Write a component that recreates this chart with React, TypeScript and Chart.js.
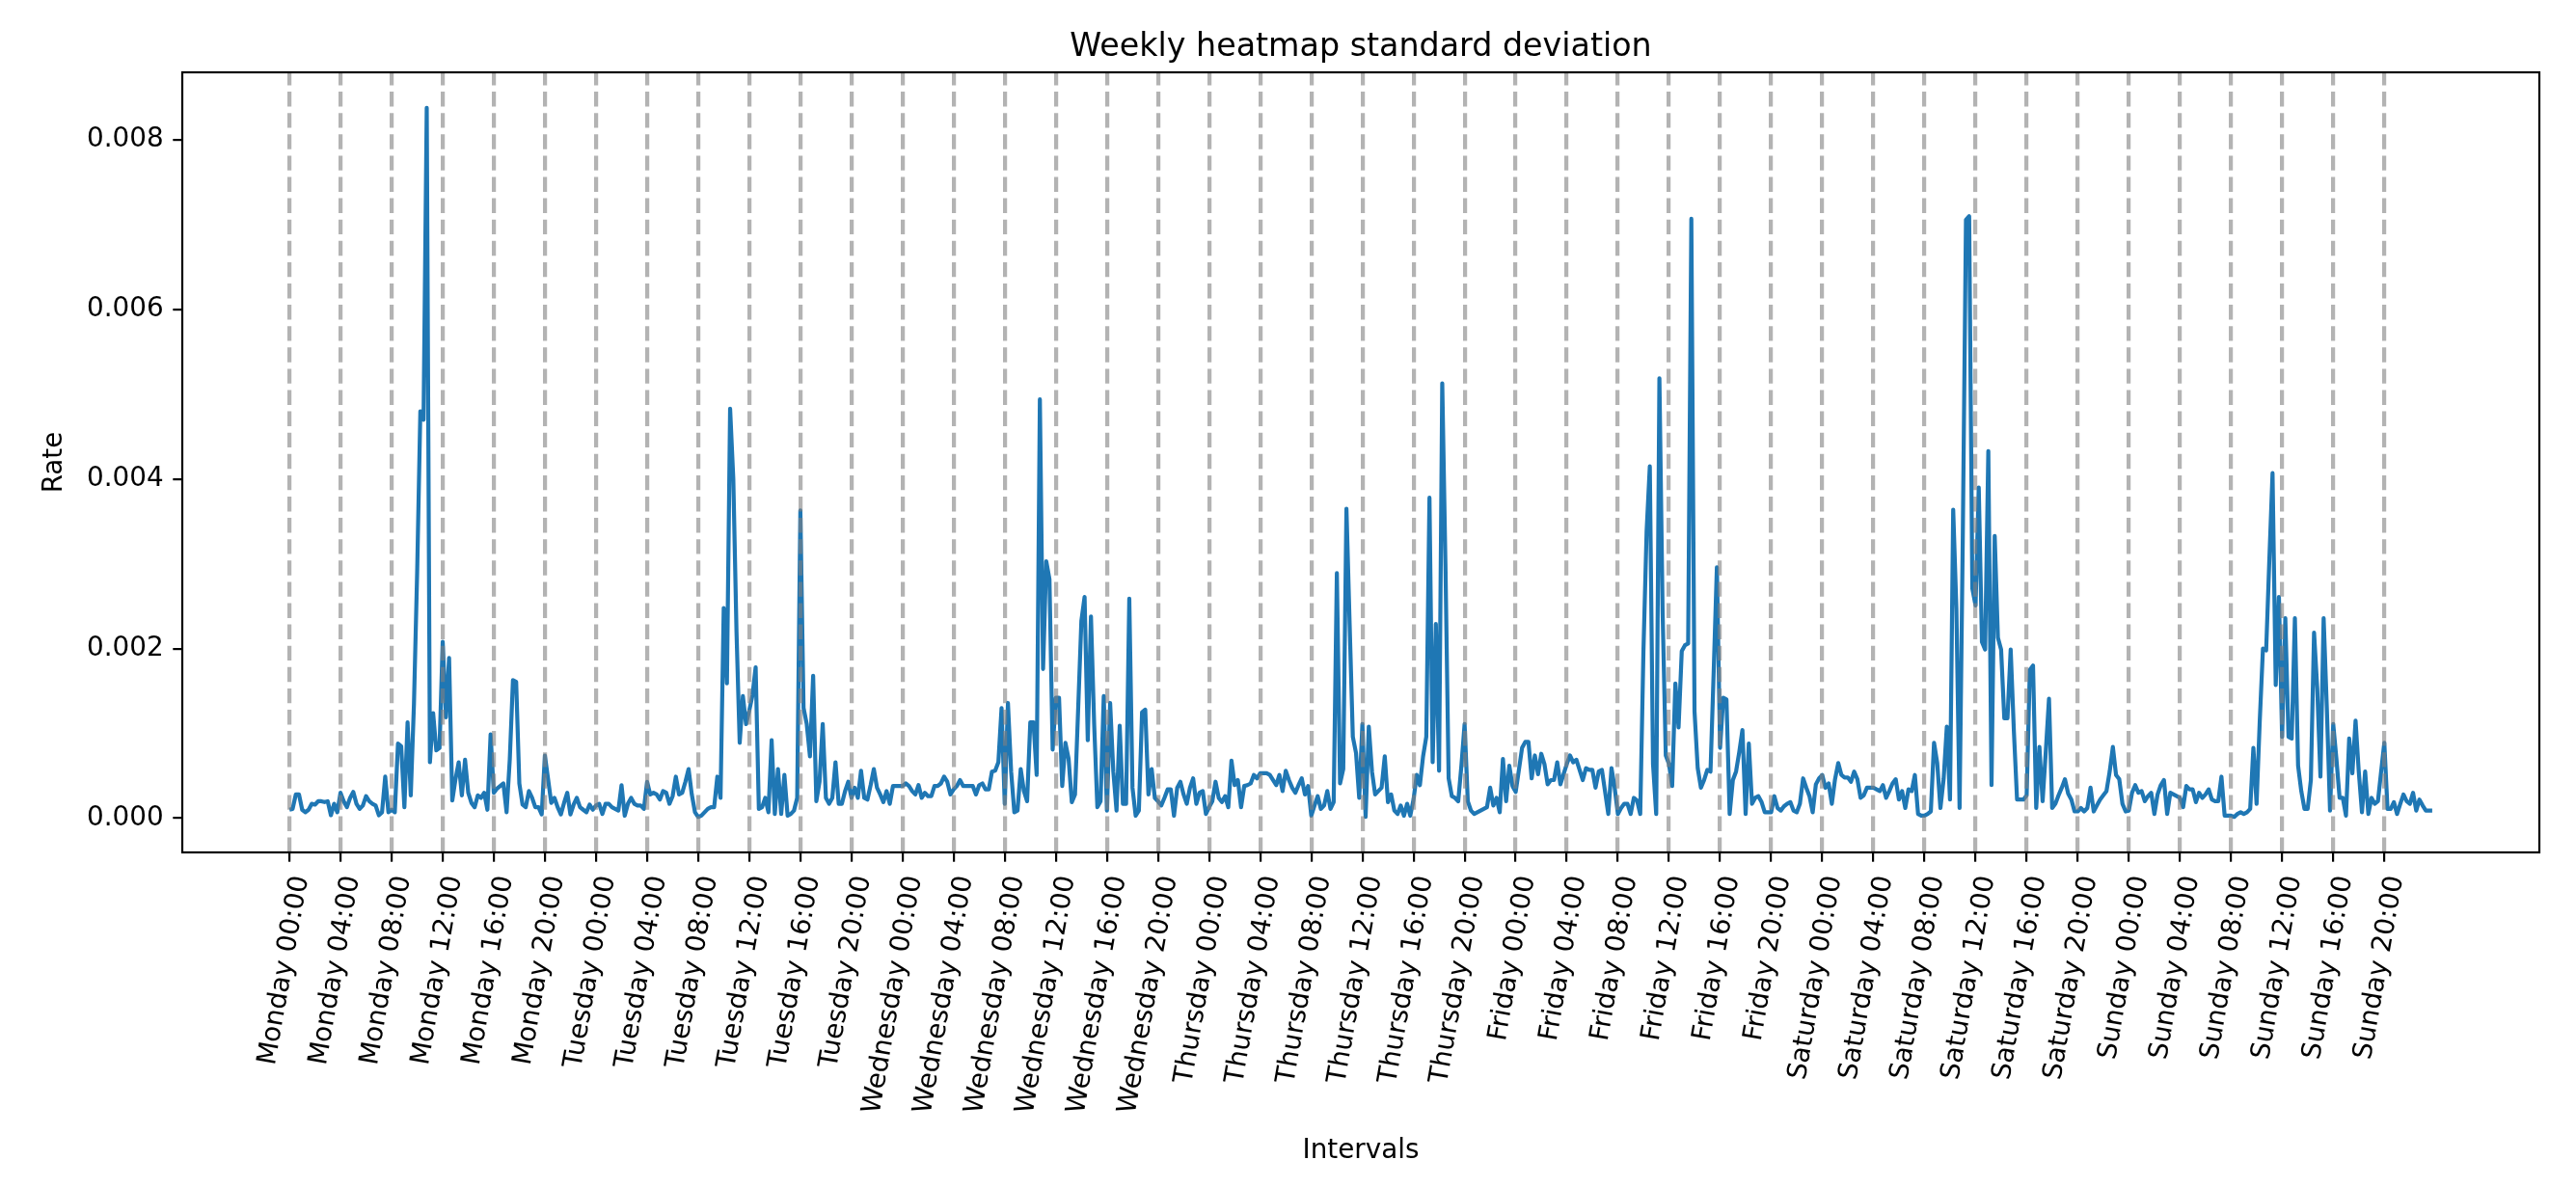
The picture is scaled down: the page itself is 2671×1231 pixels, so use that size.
import React, { useEffect, useRef } from 'react';
import Chart from 'chart.js/auto';

const chartTitle = 'Weekly heatmap standard deviation';
const days = ['Monday', 'Tuesday', 'Wednesday', 'Thursday', 'Friday', 'Saturday', 'Sunday'];
const tickHours = ['00:00', '04:00', '08:00', '12:00', '16:00', '20:00'];
// one value every 15 minutes, so 16 slots between two tick labels
const slotsPerTick = 16;

const monday = [
  0.00010, 0.00011, 0.00028, 0.00028, 0.00010, 0.00007, 0.00010, 0.00017, 0.00016, 0.00020, 0.00020, 0.00019, 0.00020, 0.000035, 0.00017, 0.00007,
  0.00030, 0.00020, 0.00013, 0.00024, 0.00031, 0.00017, 0.00011, 0.00015, 0.00026, 0.00020, 0.00017, 0.00015, 0.000035, 0.00007, 0.00049, 0.00007,
  0.00010, 0.00007, 0.00088, 0.00085, 0.00013, 0.00113, 0.00027, 0.00135, 0.0029, 0.0048, 0.0047, 0.00838, 0.00066, 0.00124, 0.00080, 0.00083,
  0.00208, 0.00119, 0.00189, 0.00021, 0.00046, 0.00066, 0.00027, 0.00069, 0.00030, 0.00018, 0.00013, 0.00027, 0.00024, 0.00030, 0.00010, 0.00099,
  0.00030, 0.00035, 0.00038, 0.00041, 0.00007, 0.00069, 0.00163, 0.00161, 0.00041, 0.00016, 0.00013, 0.00032, 0.00024, 0.00013, 0.00013, 0.000045,
  0.00074, 0.00046, 0.00018, 0.00024, 0.00013, 0.000045, 0.00018, 0.00030, 0.000045, 0.00016, 0.00024, 0.00013, 0.00010, 0.00007, 0.00016, 0.00010,
];

const tuesday = [
  0.00015, 0.00017, 0.00005, 0.00017, 0.00017, 0.00013, 0.00011, 0.00009, 0.00039, 0.00003, 0.00017, 0.00024, 0.00017, 0.00015, 0.00015, 0.00011,
  0.00043, 0.00028, 0.00030, 0.00028, 0.00022, 0.00032, 0.00030, 0.00017, 0.00026, 0.00049, 0.00028, 0.00030, 0.00043, 0.00058, 0.00028, 0.00007,
  0.000015, 0.00003, 0.00007, 0.00011, 0.00013, 0.00013, 0.00049, 0.00024, 0.00248, 0.00159, 0.00483, 0.0040, 0.0022, 0.00089, 0.00144, 0.00111,
  0.00127, 0.00145, 0.00178, 0.00011, 0.00013, 0.00024, 0.00007, 0.00092, 0.00005, 0.00058, 0.00005, 0.00051, 0.00003, 0.00005, 0.00009, 0.00024,
  0.00363, 0.0013, 0.00111, 0.00073, 0.00168, 0.00020, 0.00043, 0.00111, 0.00024, 0.00017, 0.00024, 0.00066, 0.00017, 0.00017, 0.00032, 0.00043,
  0.00024, 0.00036, 0.00024, 0.00056, 0.00024, 0.00022, 0.00039, 0.00058, 0.00036, 0.00028, 0.00019, 0.00032, 0.00017, 0.00038, 0.00038, 0.00038,
];

const wednesday = [
  0.00038, 0.00041, 0.00038, 0.00032, 0.00028, 0.00039, 0.00024, 0.00030, 0.00026, 0.00026, 0.00038, 0.00038, 0.00041, 0.00049, 0.00043, 0.00028,
  0.00034, 0.00038, 0.00045, 0.00038, 0.00038, 0.00038, 0.00038, 0.00028, 0.00039, 0.00041, 0.00034, 0.00034, 0.00055, 0.00056, 0.00066, 0.00130,
  0.00017, 0.00136, 0.00055, 0.00007, 0.00009, 0.00058, 0.00032, 0.00020, 0.00113, 0.00113, 0.00051, 0.00494, 0.00176, 0.00303, 0.00282, 0.00081,
  0.00142, 0.00142, 0.00038, 0.00089, 0.00070, 0.00019, 0.00028, 0.00130, 0.00233, 0.00261, 0.00092, 0.00238, 0.00111, 0.00013, 0.00020, 0.00144,
  0.00009, 0.00136, 0.00055, 0.00009, 0.00109, 0.00017, 0.00017, 0.00259, 0.00036, 0.00003, 0.00009, 0.00125, 0.00128, 0.00028, 0.00058, 0.00024,
  0.00020, 0.00015, 0.00024, 0.00034, 0.00034, 0.00003, 0.00036, 0.00043, 0.00028, 0.00017, 0.00036, 0.00047, 0.00017, 0.00030, 0.00032, 0.00005,
];

const thursday = [
  0.00013, 0.00020, 0.00043, 0.00024, 0.00019, 0.00026, 0.00013, 0.00068, 0.00039, 0.00045, 0.00013, 0.00038, 0.00039, 0.00041, 0.00051, 0.00047,
  0.00053, 0.00053, 0.00053, 0.00051, 0.00045, 0.00039, 0.00051, 0.00032, 0.00056, 0.00045, 0.00036, 0.00030, 0.00039, 0.00047, 0.00028, 0.00038,
  0.00003, 0.00015, 0.00026, 0.00011, 0.00015, 0.00032, 0.00011, 0.00019, 0.00289, 0.00041, 0.00058, 0.00365, 0.00229, 0.00096, 0.00077, 0.00024,
  0.00111, 0.000015, 0.00108, 0.00055, 0.00028, 0.00032, 0.00036, 0.00073, 0.00019, 0.00028, 0.00009, 0.00005, 0.00015, 0.00003, 0.00017, 0.00003,
  0.00022, 0.00051, 0.00039, 0.00073, 0.00096, 0.00378, 0.00066, 0.00229, 0.00056, 0.00513, 0.0030, 0.00047, 0.00026, 0.00024, 0.00020, 0.00062,
  0.00111, 0.00020, 0.00009, 0.00005, 0.00007, 0.00009, 0.00011, 0.00013, 0.00036, 0.00015, 0.00024, 0.00007, 0.00070, 0.00020, 0.00062, 0.00038,
];

const friday = [
  0.00031, 0.00057, 0.00083, 0.00090, 0.00090, 0.00047, 0.00074, 0.00052, 0.00076, 0.00064, 0.00040, 0.00045, 0.00045, 0.00066, 0.00040, 0.00052,
  0.00064, 0.00074, 0.00066, 0.00069, 0.00057, 0.00045, 0.00059, 0.00057, 0.00057, 0.00036, 0.00055, 0.00057, 0.00031, 0.00005, 0.00059, 0.00036,
  0.00005, 0.00012, 0.00017, 0.00017, 0.00005, 0.00024, 0.00021, 0.00005, 0.00197, 0.00339, 0.00415, 0.00064, 0.00005, 0.00519, 0.00244, 0.00074,
  0.00064, 0.00038, 0.00159, 0.00107, 0.00197, 0.00204, 0.00206, 0.00707, 0.00126, 0.00059, 0.00036, 0.00045, 0.00057, 0.00055, 0.00173, 0.00296,
  0.00083, 0.00142, 0.00140, 0.00005, 0.00045, 0.00055, 0.00078, 0.00104, 0.00005, 0.00088, 0.00017, 0.00024, 0.00026, 0.00019, 0.00007, 0.00007,
  0.00007, 0.00026, 0.00012, 0.00009, 0.00014, 0.00017, 0.00019, 0.00009, 0.00007, 0.00017, 0.00047, 0.00036, 0.00026, 0.00007, 0.00040, 0.00047,
];

const saturday = [
  0.00051, 0.00036, 0.00041, 0.00017, 0.00046, 0.00065, 0.00051, 0.00048, 0.00048, 0.00043, 0.00055, 0.00046, 0.00024, 0.00027, 0.00036, 0.00036,
  0.00036, 0.00034, 0.00032, 0.00039, 0.00024, 0.00032, 0.00041, 0.00046, 0.00022, 0.00032, 0.00012, 0.00034, 0.00032, 0.00051, 0.00005, 0.00003,
  0.00003, 0.00005, 0.00008, 0.00089, 0.00065, 0.00012, 0.00046, 0.00108, 0.00022, 0.00364, 0.00247, 0.00012, 0.0033, 0.00706, 0.00710, 0.00271,
  0.00251, 0.00390, 0.00208, 0.00199, 0.00433, 0.00039, 0.00333, 0.00213, 0.00199, 0.00118, 0.00118, 0.00199, 0.00103, 0.00022, 0.00022, 0.00022,
  0.00027, 0.00175, 0.00180, 0.00012, 0.00084, 0.00020, 0.00079, 0.00141, 0.00012, 0.00017, 0.00027, 0.00036, 0.00046, 0.00029, 0.00022, 0.00008,
  0.00008, 0.00012, 0.00008, 0.00012, 0.00036, 0.00008, 0.00015, 0.00022, 0.00027, 0.00032, 0.00055, 0.00084, 0.00051, 0.00046, 0.00017, 0.00008,
];

const sunday = [
  0.00009, 0.00030, 0.00039, 0.00030, 0.00032, 0.00020, 0.00026, 0.00030, 0.00005, 0.00028, 0.00039, 0.00045, 0.00005, 0.00030, 0.00028, 0.00026,
  0.00024, 0.00013, 0.00038, 0.00034, 0.00034, 0.00019, 0.00030, 0.00024, 0.00028, 0.00034, 0.00022, 0.00020, 0.00020, 0.00049, 0.00003, 0.00003,
  0.00003, 0.000015, 0.00005, 0.00007, 0.00005, 0.00007, 0.00011, 0.00083, 0.00017, 0.00115, 0.00200, 0.00198, 0.00305, 0.00407, 0.00157, 0.00261,
  0.00096, 0.00236, 0.00096, 0.00094, 0.00236, 0.00062, 0.00032, 0.00011, 0.00011, 0.00045, 0.00219, 0.00153, 0.00049, 0.00236, 0.00130, 0.00009,
  0.00111, 0.00070, 0.00024, 0.00024, 0.00003, 0.00094, 0.00053, 0.00115, 0.00055, 0.00007, 0.00055, 0.00005, 0.00024, 0.00017, 0.00020, 0.00055,
  0.00089, 0.00011, 0.00011, 0.00019, 0.00005, 0.00017, 0.00028, 0.00020, 0.00017, 0.00030, 0.00009, 0.00022, 0.00015, 0.00009, 0.00009, 0.00009,
];

const yTicks = [0, 0.002, 0.004, 0.006, 0.008];

const rates = [...monday, ...tuesday, ...wednesday, ...thursday, ...friday, ...saturday, ...sunday];
const tickLabels = days.flatMap((d) => tickHours.map((h) => `${d} ${h}`));

const WIDTH = 2671;
const HEIGHT = 1231;
const FONT = 'DejaVu Sans';

// matplotlib-like 5% margins around the data
const xMargin = 0.05 * (rates.length - 1);
const yLow = Math.min(...rates);
const yHigh = Math.max(...rates);
const yMargin = 0.05 * (yHigh - yLow);

const frameAndTitle = {
  id: 'frameAndTitle',
  afterDraw(chart: any) {
    const { ctx, chartArea } = chart;
    const { left, right, top, bottom } = chartArea;
    ctx.save();
    ctx.strokeStyle = '#000';
    ctx.lineWidth = 2.2;
    ctx.strokeRect(left, top, right - left, bottom - top);
    ctx.fillStyle = '#000';
    ctx.font = `33.3px "${FONT}"`;
    ctx.textAlign = 'center';
    ctx.textBaseline = 'alphabetic';
    ctx.fillText(chartTitle, (left + right) / 2, top - 16.7);
    ctx.restore();
  },
};

const App: React.FC = () => {
  const canvasRef = useRef<HTMLCanvasElement>(null);
  const chartRef = useRef<Chart | null>(null);

  useEffect(() => {
    if (!canvasRef.current) return;
    if (chartRef.current) chartRef.current.destroy();

    const tickFont = { family: FONT, size: 27.8 };

    chartRef.current = new Chart(canvasRef.current, {
      type: 'line',
      data: {
        datasets: [{
          data: rates.map((y, i) => ({ x: i, y })),
          borderColor: '#1f77b4',
          borderWidth: 4.2,
          borderJoinStyle: 'round',
          pointRadius: 0,
          tension: 0,
          fill: false,
        }],
      },
      options: {
        responsive: false,
        animation: false,
        devicePixelRatio: 1,
        layout: { padding: { left: 0, right: 38, top: 75, bottom: 0 } },
        plugins: {
          legend: { display: false },
          tooltip: { enabled: false },
          title: { display: false },
        },
        scales: {
          x: {
            type: 'linear',
            min: -xMargin,
            max: rates.length - 1 + xMargin,
            afterBuildTicks: (scale: any) => {
              scale.ticks = tickLabels.map((_, k) => ({ value: k * slotsPerTick }));
            },
            afterFit: (scale: any) => {
              scale.height = 347;
            },
            ticks: {
              autoSkip: false,
              minRotation: 80,
              maxRotation: 80,
              padding: 12,
              labelOffset: 12,
              color: '#000',
              font: tickFont,
              callback: (value: any) => tickLabels[Math.round(Number(value) / slotsPerTick)] ?? '',
            },
            grid: {
              color: 'rgba(128,128,128,0.6)',
              lineWidth: 4.2,
              borderDash: [15.4, 6.7],
              borderDashOffset: 2,
              tickColor: '#000',
              tickWidth: 2.2,
              tickLength: 9.7,
              tickBorderDash: [],
              z: 1,
            },
            // in Chart.js 4 the grid line dash is read from the border options
            border: { display: false, dash: [15.4, 6.7], dashOffset: 2 },
            title: {
              display: true,
              text: 'Intervals',
              color: '#000',
              font: tickFont,
              padding: { top: 0, bottom: 21 },
            },
          },
          y: {
            type: 'linear',
            min: yLow - yMargin,
            max: yHigh + yMargin,
            afterBuildTicks: (scale: any) => {
              scale.ticks = yTicks.map((v) => ({ value: v }));
            },
            afterFit: (scale: any) => {
              scale.width = 189;
            },
            ticks: {
              padding: 9.7,
              color: '#000',
              font: tickFont,
              callback: (value: any) => Number(value).toFixed(3),
            },
            grid: {
              drawOnChartArea: false,
              tickColor: '#000',
              tickWidth: 2.2,
              lineWidth: 2.2,
              tickLength: 9.7,
            },
            border: { display: false },
            title: {
              display: true,
              text: 'Rate',
              color: '#000',
              font: tickFont,
              padding: { top: 40, bottom: 0 },
            },
          },
        },
      },
      plugins: [frameAndTitle],
    } as any);

    return () => {
      if (chartRef.current) {
        chartRef.current.destroy();
        chartRef.current = null;
      }
    };
  }, []);

  return (
    <div style={{ position: 'fixed', left: 0, top: 0, width: WIDTH, height: HEIGHT, background: '#fff' }}>
      <canvas ref={canvasRef} width={WIDTH} height={HEIGHT}></canvas>
    </div>
  );
};

export default App;
